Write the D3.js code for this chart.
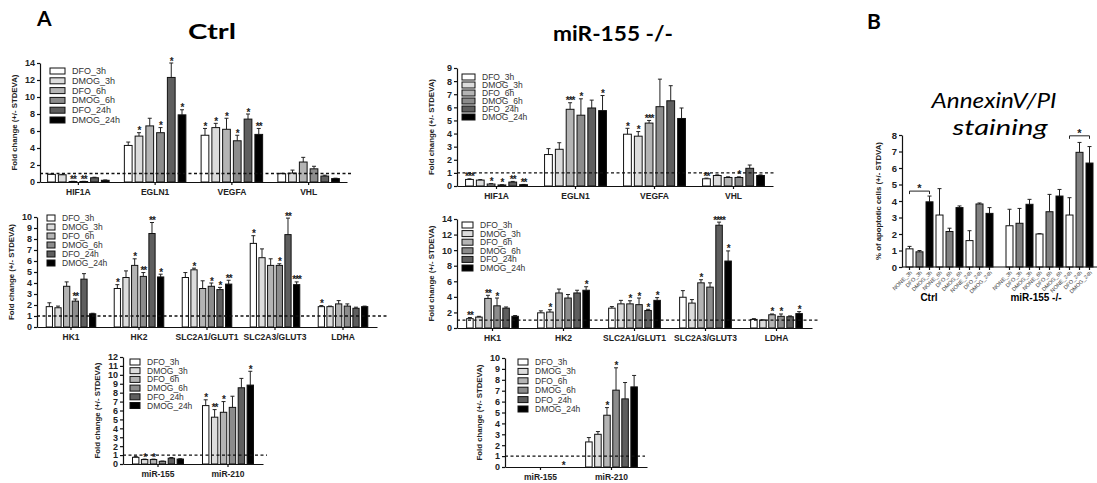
<!DOCTYPE html>
<html lang="en">
<head>
<meta charset="UTF-8">
<title>Fold change - Ctrl vs miR-155 -/-</title>
<script src="https://d3js.org/d3.v7.min.js"></script>
<style>
  body { margin: 0; background: #fff; }
  svg { display: block; font-family: "Liberation Sans", Arial, sans-serif; }
  .legend text { fill: #333; }
</style>
</head>
<body>
<svg id="chart" width="1097" height="483"></svg>
<script>
// treatments (same for every panel in A)
const series = ["DFO_3h", "DMOG_3h", "DFO_6h", "DMOG_6h", "DFO_24h", "DMOG_24h"];
const seriesFill = ["#ffffff", "#dcdcdc", "#b4b4b4", "#8c8c8c", "#5e5e5e", "#000000"];

// Ctrl - HIF targets
const ctrlTopGenes = ["HIF1A", "EGLN1", "VEGFA", "VHL"];
const ctrlTopMean = [[0.9, 0.85, 0.06, 0.06, 0.5, 0.2], [4.3, 5.4, 6.6, 5.8, 12.3, 7.9], [5.5, 6.4, 6.2, 4.85, 7.4, 5.6], [0.98, 1.05, 2.35, 1.55, 0.7, 0.4]];
const ctrlTopSd = [[0.05, 0.05, 0.02, 0.02, 0.06, 0.04], [0.4, 0.4, 0.9, 0.6, 1.7, 0.6], [0.8, 0.5, 1.3, 0.65, 0.6, 0.7], [0.05, 0.35, 0.55, 0.3, 0.1, 0.05]];
const ctrlTopStars = [["", "", "**", "**", "", ""], ["", "*", "", "*", "*", "*"], ["*", "*", "*", "*", "*", "**"], ["", "", "", "", "", ""]];

// miR-155 -/- - HIF targets
const mirTopGenes = ["HIF1A", "EGLN1", "VEGFA", "VHL"];
const mirTopMean = [[0.5, 0.45, 0.15, 0.08, 0.3, 0.1], [2.4, 2.8, 5.85, 5.4, 5.95, 5.75], [3.95, 3.8, 4.8, 6.05, 6.5, 5.15], [0.55, 0.8, 0.65, 0.65, 1.35, 0.8]];
const mirTopSd = [[0.05, 0.04, 0.03, 0.02, 0.05, 0.02], [0.45, 0.5, 0.5, 1.25, 0.6, 1.15], [0.45, 0.35, 0.2, 2.1, 1.15, 0.8], [0.05, 0.05, 0.05, 0.05, 0.25, 0.05]];
const mirTopStars = [["***", "", "*", "*", "**", "**"], ["", "", "***", "*", "", "*"], ["*", "*", "***", "", "", ""], ["**", "", "", "*", "", ""]];

// Ctrl - glycolysis genes
const ctrlMidGenes = ["HK1", "HK2", "SLC2A1/GLUT1", "SLC2A3/GLUT3", "LDHA"];
const ctrlMidMean = [[1.85, 1.75, 3.7, 2.35, 4.35, 1.2], [3.5, 4.5, 5.6, 4.6, 8.5, 4.55], [4.5, 5.2, 3.5, 3.7, 3.4, 3.9], [7.6, 6.3, 5.6, 5.6, 8.4, 3.85], [1.85, 1.85, 2.1, 1.9, 1.7, 1.85]];
const ctrlMidSd = [[0.35, 0.15, 0.4, 0.2, 0.5, 0.05], [0.35, 0.6, 0.6, 0.35, 1.0, 0.25], [0.45, 0.15, 0.7, 0.3, 0.2, 0.35], [0.7, 0.8, 0.6, 0.15, 1.5, 0.25], [0.1, 0.05, 0.3, 0.2, 0.1, 0.05]];
const ctrlMidStars = [["", "", "", "**", "", ""], ["*", "", "*", "**", "**", "*"], ["", "*", "", "*", "*", "**"], ["*", "", "", "*", "**", "***"], ["*", "", "", "", "", ""]];

// miR-155 -/- - glycolysis genes
const mirMidGenes = ["HK1", "HK2", "SLC2A1/GLUT1", "SLC2A3/GLUT3", "LDHA"];
const mirMidMean = [[1.2, 1.4, 3.8, 2.85, 2.55, 1.5], [1.95, 2.05, 4.5, 3.85, 4.5, 4.85], [2.55, 3.1, 3.1, 3.0, 2.25, 3.55], [3.95, 3.2, 5.8, 5.25, 13.2, 8.6], [1.1, 1.0, 1.7, 1.5, 1.45, 1.85]];
const mirMidSd = [[0.15, 0.1, 0.4, 1.0, 0.15, 0.1], [0.25, 0.3, 0.5, 0.45, 0.35, 0.45], [0.2, 0.45, 0.4, 0.85, 0.15, 0.35], [0.85, 0.45, 0.4, 0.55, 0.4, 1.3], [0.1, 0.05, 0.1, 0.3, 0.1, 0.25]];
const mirMidStars = [["**", "", "**", "*", "", ""], ["", "*", "", "", "", "*"], ["", "", "*", "*", "*", "*"], ["", "", "*", "", "****", "*"], ["", "", "*", "*", "", "*"]];

// Ctrl - miRNAs
const ctrlBotGenes = ["miR-155", "miR-210"];
const ctrlBotMean = [[0.75, 0.5, 0.5, 0.3, 0.65, 0.55], [6.55, 5.25, 5.8, 6.35, 8.55, 8.85]];
const ctrlBotSd = [[0.1, 0.05, 0.05, 0.03, 0.08, 0.04], [0.65, 0.85, 1.2, 1.25, 1.05, 1.55]];
const ctrlBotStars = [["", "*", "*", "", "", ""], ["*", "**", "*", "", "", "*"]];

// miR-155 -/- - miRNAs
const mirBotGenes = ["miR-155", "miR-210"];
const mirBotMean = [[0, 0, 0, 0, 0, 0], [2.3, 3.0, 4.75, 7.05, 6.25, 7.35]];
const mirBotSd = [[0, 0, 0, 0, 0, 0], [0.4, 0.25, 0.7, 2.05, 1.5, 1.05]];
const mirBotStars = [["", "", "", "", "", "*"], ["", "", "*", "*", "", ""]];

// panel B - AnnexinV/PI
const bLabels = ["NONE_3h", "DFO_3h", "DMOG_3h", "NONE_6h", "DFO_6h", "DMOG_6h", "NONE_24h", "DFO_24h", "DMOG_24h"];
const bFill = ["#ffffff", "#808080", "#000000"];
const bCtrlMean = [1.1, 0.92, 3.95, 3.15, 2.15, 3.6, 1.6, 3.82, 3.25];
const bCtrlSd = [0.15, 0.08, 0.35, 1.6, 0.2, 0.1, 0.6, 0.06, 0.35];
const bMirMean = [2.5, 2.65, 3.8, 2.0, 3.35, 4.3, 3.15, 6.95, 6.3];
const bMirSd = [1.0, 0.9, 0.3, 0.02, 1.05, 0.4, 1.05, 0.6, 1.0];

const svg = d3.select("#chart");
svg.append("rect").attr("width", 1097).attr("height", 483).attr("fill", "#fff");

const color = d3.scaleOrdinal().domain(series).range(seriesFill);

const panels = [
  { genes: ctrlTopGenes, mean: ctrlTopMean, sd: ctrlTopSd, stars: ctrlTopStars, yMax: 14, yStep: 2,
    xr: [40, 347], yr: [182, 63], pin: 0.12, pout: 0.06, dashEnd: 352, leg: [50, 71, 9.8, 72, 9] },
  { genes: mirTopGenes, mean: mirTopMean, sd: mirTopSd, stars: mirTopStars, yMax: 9, yStep: 1,
    xr: [457, 773], yr: [186, 68], pin: 0.14, pout: 0.07, dashEnd: 776, leg: [462, 77, 8, 482, 8.5] },
  { genes: ctrlMidGenes, mean: ctrlMidMean, sd: ctrlMidSd, stars: ctrlMidStars, yMax: 10, yStep: 1,
    xr: [37, 377], yr: [327, 217], pin: 0.2, pout: 0.1, dashEnd: 388, leg: [47, 218, 9, 62, 8.5] },
  { genes: mirMidGenes, mean: mirMidMean, sd: mirMidSd, stars: mirMidStars, yMax: 14, yStep: 2,
    xr: [457, 812], yr: [328, 219], pin: 0.2, pout: 0.1, dashEnd: 820, leg: [462, 225, 8.6, 480, 8.5] },
  { genes: ctrlBotGenes, mean: ctrlBotMean, sd: ctrlBotSd, stars: ctrlBotStars, yMax: 12, yStep: 1,
    xr: [123, 263], yr: [464, 357], pin: 0.2, pout: 0.1, dashEnd: 267, leg: [130, 362, 8.7, 147, 8.5] },
  { genes: mirBotGenes, mean: mirBotMean, sd: mirBotSd, stars: mirBotStars, yMax: 10, yStep: 1,
    xr: [505, 647], yr: [467, 358], pin: 0.2, pout: 0.1, dashEnd: 645, leg: [518, 362, 9.4, 535, 8.5] }
];

function styleAxis(g, size) {
  g.selectAll("text").attr("font-size", size).attr("font-weight", "bold")
    .attr("font-family", "'Liberation Sans', Arial, sans-serif").attr("fill", "#222");
  g.selectAll("path, line").attr("stroke", "#111").attr("stroke-width", 1.2);
}

function errPath(cx, yb, yt) {
  return `M${cx},${yb}V${yt}M${cx - 2},${yt}H${cx + 2}`;
}

function drawPanel(p) {
  const g = svg.append("g");
  const x0 = d3.scaleBand().domain(p.genes).range(p.xr).paddingInner(p.pin).paddingOuter(p.pout);
  const x1 = d3.scaleBand().domain(series).range([0, x0.bandwidth()]).padding(0.28);
  const y = d3.scaleLinear().domain([0, p.yMax]).range(p.yr);

  const rows = [];
  p.genes.forEach((gene, gi) => series.forEach((s, si) => rows.push({
    gene, s, m: p.mean[gi][si], sd: p.sd[gi][si], star: p.stars[gi][si]
  })));
  const cx = d => x0(d.gene) + x1(d.s) + x1.bandwidth() / 2;

  g.selectAll("path.err").data(rows.filter(d => d.sd > 0)).join("path")
    .attr("d", d => errPath(cx(d), y(d.m), y(d.m + d.sd)))
    .attr("stroke", "#222").attr("stroke-width", 1).attr("fill", "none");

  g.selectAll("rect.bar").data(rows.filter(d => d.m > 0)).join("rect")
    .attr("x", d => x0(d.gene) + x1(d.s))
    .attr("y", d => y(d.m))
    .attr("width", x1.bandwidth())
    .attr("height", d => y(0) - y(d.m))
    .attr("fill", d => color(d.s))
    .attr("stroke", "#111").attr("stroke-width", 1);

  g.selectAll("text.star").data(rows.filter(d => d.star)).join("text")
    .attr("x", cx).attr("y", d => y(d.m + d.sd) + 1.5)
    .attr("text-anchor", "middle").attr("font-size", 10).attr("font-weight", "bold").attr("fill", "#222")
    .attr("letter-spacing", -1)
    .text(d => d.star);

  // y axis
  g.append("g").attr("transform", `translate(${p.xr[0]},0)`)
    .call(d3.axisLeft(y).tickValues(d3.range(0, p.yMax + 0.01, p.yStep)).tickSize(3).tickSizeOuter(0).tickPadding(2))
    .call(a => styleAxis(a, 9));

  // x axis with gene names
  g.append("g").attr("transform", `translate(0,${p.yr[0]})`)
    .call(d3.axisBottom(x0).tickSize(3).tickSizeOuter(0).tickPadding(4))
    .call(a => styleAxis(a, 8.5));

  // dashed reference at fold change 1
  g.append("line")
    .attr("x1", p.xr[0]).attr("x2", p.dashEnd)
    .attr("y1", y(1)).attr("y2", y(1))
    .attr("stroke", "#111").attr("stroke-width", 1.3).attr("stroke-dasharray", "3,2.5");

  g.append("text")
    .attr("transform", `translate(${p.xr[0] - 23},${(p.yr[0] + p.yr[1]) / 2}) rotate(-90)`)
    .attr("text-anchor", "middle").attr("font-size", 7.8).attr("font-weight", "bold").attr("fill", "#222")
    .text("Fold change (+/- STDEVA)");

  // legend
  const [lx, ly, step, tx, fs] = p.leg;
  const leg = g.append("g").attr("class", "legend");
  series.forEach((s, i) => {
    leg.append("rect").attr("x", lx).attr("y", ly + i * step - 3)
      .attr("width", tx - lx - 7).attr("height", 6)
      .attr("fill", color(s)).attr("stroke", "#111").attr("stroke-width", 1);
    leg.append("text").attr("x", tx).attr("y", ly + i * step + 3)
      .attr("font-size", fs).text(s);
  });
}

panels.forEach(drawPanel);

// panel headings
svg.append("text").attr("x", 37).attr("y", 26).attr("font-size", 21).attr("font-weight", "bold")
  .attr("font-family", "Lato, sans-serif").text("A");
svg.append("text").attr("x", 867).attr("y", 29).attr("font-size", 21).attr("font-weight", "bold")
  .attr("font-family", "Lato, sans-serif").text("B");
svg.append("text").attr("x", 188).attr("y", 39).attr("font-size", 20).attr("font-weight", "bold")
  .attr("font-family", "Lato, sans-serif").attr("textLength", 48).attr("lengthAdjust", "spacingAndGlyphs")
  .text("Ctrl");
svg.append("text").attr("x", 553).attr("y", 41).attr("font-size", 20).attr("font-weight", "bold")
  .attr("font-family", "Lato, sans-serif").attr("textLength", 120).attr("lengthAdjust", "spacingAndGlyphs")
  .text("miR-155 -/-");

// ---- panel B ----
const bSlots = d3.range(19);
const bx = d3.scaleBand().domain(bSlots).range([903, 1096]).padding(0.3);
const by = d3.scaleLinear().domain([0, 8]).range([267, 135]);
const bRows = [];
bLabels.forEach((l, i) => {
  bRows.push({ slot: i, label: l, m: bCtrlMean[i], sd: bCtrlSd[i], fill: bFill[i % 3] });
  bRows.push({ slot: i + 10, label: l, m: bMirMean[i], sd: bMirSd[i], fill: bFill[i % 3] });
});
const bcx = d => bx(d.slot) + bx.bandwidth() / 2;
const gb = svg.append("g");

gb.selectAll("path.err").data(bRows).join("path")
  .attr("d", d => errPath(bcx(d), by(d.m), by(d.m + d.sd)))
  .attr("stroke", "#222").attr("stroke-width", 1).attr("fill", "none");
gb.selectAll("rect").data(bRows).join("rect")
  .attr("x", d => bx(d.slot)).attr("y", d => by(d.m))
  .attr("width", bx.bandwidth()).attr("height", d => by(0) - by(d.m))
  .attr("fill", d => d.fill).attr("stroke", "#111").attr("stroke-width", 1);

gb.append("g").attr("transform", "translate(902,0)")
  .call(d3.axisLeft(by).ticks(8).tickSize(3).tickSizeOuter(0).tickPadding(2))
  .call(a => styleAxis(a, 9.5));
gb.append("g").attr("transform", "translate(0,267)")
  .call(d3.axisBottom(bx).tickValues(bRows.map(d => d.slot)).tickSize(3).tickSizeOuter(0).tickFormat(""))
  .call(a => styleAxis(a, 6))
  .select(".domain").attr("d", "M902,0H1097");

gb.selectAll("text.xl").data(bRows).join("text")
  .attr("transform", d => `translate(${bcx(d) + 3},${by(0) + 6}) rotate(-45)`)
  .attr("text-anchor", "end").attr("font-size", 5.5).attr("fill", "#444")
  .text(d => d.label);

// significance brackets
const brackets = [[0, 2, 4.6], [16, 18, 7.95]];
brackets.forEach(([a, b, v]) => {
  const xa = bx(a) + bx.bandwidth() / 2, xb = bx(b) + bx.bandwidth() / 2, yv = by(v);
  gb.append("path").attr("d", `M${xa},${yv + 3}V${yv}H${xb}V${yv + 3}`)
    .attr("stroke", "#222").attr("stroke-width", 1).attr("fill", "none");
  gb.append("text").attr("x", (xa + xb) / 2).attr("y", yv + 1).attr("text-anchor", "middle")
    .attr("font-size", 11).attr("font-weight", "bold").attr("fill", "#222").text("*");
});

gb.append("text")
  .attr("transform", "translate(881,201) rotate(-90)")
  .attr("text-anchor", "middle").attr("font-size", 7.8).attr("font-weight", "bold").attr("fill", "#222")
  .text("% of apoptotic cells (+/- STDVA)");

gb.append("text").attr("x", 929).attr("y", 301).attr("text-anchor", "middle")
  .attr("font-size", 10).attr("font-weight", "bold").text("Ctrl");
gb.append("text").attr("x", 1036).attr("y", 301).attr("text-anchor", "middle")
  .attr("font-size", 10).attr("font-weight", "bold").text("miR-155 -/-");

gb.append("text").attr("x", 994).attr("y", 108).attr("text-anchor", "middle")
  .attr("font-size", 22).attr("font-style", "italic").attr("font-family", "Lato, sans-serif")
  .attr("textLength", 125).attr("lengthAdjust", "spacingAndGlyphs").text("AnnexinV/PI");
gb.append("text").attr("x", 1000).attr("y", 135).attr("text-anchor", "middle")
  .attr("font-size", 22).attr("font-style", "italic").attr("font-family", "Lato, sans-serif")
  .attr("textLength", 95).attr("lengthAdjust", "spacingAndGlyphs").text("staining");
</script>
</body>
</html>
